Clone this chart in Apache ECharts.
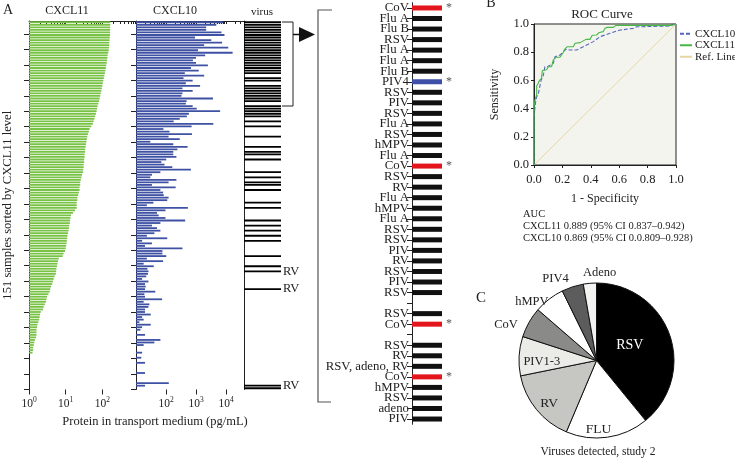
<!DOCTYPE html>
<html><head><meta charset="utf-8">
<script src="https://cdn.jsdelivr.net/npm/echarts@6/dist/echarts.min.js"></script>
<style>html,body{margin:0;padding:0;background:#fff}#c{width:735px;height:461px}</style>
</head><body><div id="c"></div>
<script>
// ---------- DATA ----------
// CXCL11 (pg/mL), samples sorted by CXCL11 level (null = below detection)
const cxcl11 = [165,165,164,164,163,162,160,158,156,155,152,150,
  145,140,138,135,132,129,125,122,118,114,110,107,103,100,97,94,91,88,
  85,82,78,74,72,70,67,64,61,58,55,50,45,43,41,39,38,37,36,35,34,34,33,33,
  32,32,31,31,30,30,28,27,26,25,25,24,24,23,22,21,21,20,20,20,18,16,14,13.6,
  13.2,13,12.6,12.3,12,11.6,11.2,11,10.8,10.6,10.3,10,9.6,8.8,8.3,6.5,6.2,6.0,
  5.8,5.6,5.5,5.4,5.0,4.7,4.5,4.3,4.0,3.8,3.7,3.4,3.1,3.0,2.9,2.7,2.5,2.4,
  2.1,2.0,1.95,1.9,1.8,1.7,1.65,1.6,1.6,1.6,1.55,1.45,1.4,1.35,1.3,1.3,1.25,
  null,null,null,null,null,null,null,null,null,null,null,null,null,null];
// CXCL10 (pg/mL), same sample order
const cxcl10 = [8040,4760,2180,2180,7040,8890,925,3220,7430,1870,
  11880,1170,16600,2020,1000,791,1000,2490,677,1235,
  424,1870,383,773,458,1367,354,773,354,327,
  3680,484,458,773,1056,6360,579,495,287,180,
  3770,715,82,131,732,122,287,30,175,523,
  240,175,175,222,102,70,89,162,677,65,
  34,30,222,122,34,210,65,80,84,122,
  110,38,23,535,96,50,57,96,434,65,
  34,50,65,41,23,110,
  16,34,20,354,76,76,102,23,80,18,39,24,26,25,22,16,26,20,21,20,
  44,19,20,74,18,28,26,20,20,31,
  16,18,13,31,16,14,null,20,null,65,41,18,null,null,16,null,15,null,20,null,
  null,null,20,null,null,null,124,20,null];
// samples (0-based, same order) in which a virus was detected
const virusDetected = [0,1,2,3,4,5,6,7,8,9,10,11,12,13,14,15,16,17,18,19,20,
  22,23,25,26,27,28,29,30,31,33,34,35,36,37,39,41,45,49,51,52,54,59,61,63,64,
  66,71,73,78,80,82,84,86,92,96,98,105,143,144];
const virusNotes = {98:'RV', 105:'RV', 143:'RV'};
// expanded list of top samples
const listLabels = ['CoV','Flu A','Flu B','RSV','Flu A','Flu A','Flu B','PIV4','RSV','PIV',
  'RSV','Flu A','RSV','hMPV','Flu A','CoV','RSV','RV','Flu A','hMPV',
  'Flu A','RSV','RSV','PIV','RV','RSV','PIV','RSV','','RSV',
  'CoV','','RSV','RV','RSV, adeno, RV','CoV','hMPV','RSV','adeno','PIV'];
// ROC curves
const roc11Fpr = [0,0,0.007,0.007,0.019,0.019,0.03,0.038,0.054,0.054,0.059,0.089,0.101,0.124,0.136,0.155,0.183,0.207,0.215,0.235,0.277,0.289,0.324,0.366,0.394,0.41,0.441,0.46,0.488,0.5,0.516,0.559,0.577,0.97,0.98,1];
const roc11Tpr = [0,0.41,0.41,0.46,0.5,0.56,0.58,0.60,0.615,0.63,0.67,0.675,0.697,0.697,0.745,0.764,0.764,0.80,0.82,0.839,0.839,0.863,0.868,0.891,0.891,0.92,0.922,0.94,0.946,0.97,0.976,0.976,0.99,0.99,1,1];
const roc10Fpr = [0,0,0.007,0.012,0.019,0.03,0.038,0.05,0.066,0.077,0.1,0.113,0.136,0.148,0.183,0.207,0.225,0.254,0.3,0.324,0.371,0.418,0.465,0.535,0.606,0.7,0.723,0.958,0.98,1];
const roc10Tpr = [0,0.34,0.41,0.45,0.485,0.5,0.544,0.6,0.638,0.697,0.70,0.709,0.721,0.768,0.78,0.804,0.82,0.816,0.816,0.827,0.851,0.875,0.91,0.934,0.957,0.969,0.98,0.986,1,1];
const aucLines = ['AUC','CXCL11 0.889 (95% CI 0.837\u20130.942)','CXCL10 0.869 (95% CI 0.0.809\u20130.928)'];
// viruses detected, study 2
const pieNames = ['RSV','FLU','RV','PIV1-3','CoV','hMPV','PIV4','Adeno'];
const pieValues = [43,19,17,9,7,7,5,3];

// ---------- BUILD ----------
const F = "'Liberation Serif','Times New Roman',serif";
const INK = '#222';
const N = cxcl11.length;
const cats = cxcl11.map((_, i) => String(i + 1));
const lg = v => (v == null ? null : Math.log10(v));
function logTicks(lo, hi) {
  const out = [];
  for (let d = Math.floor(lo); d <= Math.ceil(hi); d++)
    for (let m = 1; m <= 9; m++) {
      const t = d + Math.log10(m);
      if (t >= lo - 1e-9 && t <= hi + 1e-9) out.push(t);
    }
  return out;
}
const supRich = {
  b: {fontFamily: F, fontSize: 11.5, color: INK},
  s: {fontFamily: F, fontSize: 7.5, color: INK, padding: [0, 0, 7, 0]}
};
const supFmt = v => '{b|10}{s|' + Math.round(v) + '}';
const sampleTicks = Array.from({length: 24}, (_, k) => 5.1 + k * 6.08);
const x11Max = 2.92, x10Min = 1, x10Max = 4.633;

function minorAxis(grid, min, max) {
  return {gridIndex: grid, type: 'value', min, max, position: 'bottom',
    axisLine: {show: true, lineStyle: {color: INK, width: 1}},
    axisTick: {show: true, length: 3, customValues: logTicks(min, max), lineStyle: {color: INK}},
    axisLabel: {show: false}, splitLine: {show: false}};
}
function majorAxis(grid, min, max, labs) {
  return {gridIndex: grid, type: 'value', min, max, position: 'bottom',
    axisLine: {show: false},
    axisTick: {show: true, length: 5, customValues: labs, lineStyle: {color: INK}},
    axisLabel: {customValues: labs, formatter: supFmt, rich: supRich, margin: 7},
    splitLine: {show: false}};
}
function catAxis(grid, extra) {
  return Object.assign({gridIndex: grid, type: 'category', data: cats, inverse: true,
    axisLine: {show: true, lineStyle: {color: INK}}, axisTick: {show: false},
    axisLabel: {show: false}, splitLine: {show: false}}, extra || {});
}
function tickAxis(grid) {
  return {gridIndex: grid, type: 'value', min: 0, max: N, inverse: true, position: 'left',
    axisLine: {show: false},
    axisTick: {show: true, length: 5, customValues: sampleTicks, lineStyle: {color: INK}},
    axisLabel: {show: false}, splitLine: {show: false}};
}

const virusData = cats.map((_, i) => {
  if (!virusDetected.includes(i)) return null;
  const it = {value: 1};
  if (virusNotes[i]) it.label = {show: true, position: 'right', distance: 2, formatter: virusNotes[i],
    fontFamily: F, fontSize: 12.5, color: INK};
  return it;
});
const listData = listLabels.map(l => {
  if (!l) return null;
  let color = '#111', star = false;
  if (l === 'CoV') { color = '#e3161d'; star = true; }
  if (l === 'PIV4') { color = '#3d4fa6'; star = true; }
  const it = {value: 1, itemStyle: {color}};
  if (star) it.label = {show: true, position: 'right', distance: 4, formatter: '*',
    fontFamily: F, fontSize: 12, color: '#555'};
  return it;
});

const pieLabelCfg = {
  RSV: {position: 'inside', color: '#fff', fontSize: 14, offset: [-6, -1]},
  FLU: {position: 'inside', color: INK, fontSize: 13.5, offset: [-4, 28]},
  RV: {position: 'inside', color: INK, fontSize: 13.5, offset: [-15, 17]},
  'PIV1-3': {position: 'inside', color: INK, fontSize: 12.5, offset: [-13, 4]},
  CoV: {position: 'outside', color: INK, fontSize: 12.5, offset: [-4, 5]},
  hMPV: {position: 'outside', color: INK, fontSize: 12.5, offset: [5, 7]},
  PIV4: {position: 'outside', color: INK, fontSize: 12.5, offset: [0, -2]},
  Adeno: {position: 'outside', color: INK, fontSize: 12.5, offset: [29, -5]}
};
const pieColors = {RSV: '#000', FLU: '#fff', RV: '#c6c6c2', 'PIV1-3': '#ebebe7', CoV: '#8a8a88',
  hMPV: '#fff', PIV4: '#5c5c5c', Adeno: '#f3f3f1'};
const pieData = pieNames.map((n, i) => ({name: n, value: pieValues[i],
  itemStyle: {color: pieColors[n]},
  label: Object.assign({fontFamily: F}, pieLabelCfg[n])}));

const txt = (x, y, text, size, extra) => ({type: 'text', x, y, silent: true,
  style: Object.assign({text, fontFamily: F, fontSize: size, fill: INK, align: 'center', verticalAlign: 'middle'}, extra || {})});

const option = {
  backgroundColor: '#fff',
  animation: false,
  textStyle: {fontFamily: F},
  grid: [
    {left: 28, top: 21, width: 108, height: 368.5},
    {left: 136, top: 21, width: 109, height: 368.5},
    {left: 244, top: 21, width: 37, height: 368.5},
    {left: 412, top: 2.7, width: 30, height: 421.6},
    {left: 534, top: 24, width: 142, height: 141, show: true, backgroundColor: '#f4f4ef', borderColor: INK, borderWidth: 1}
  ],
  xAxis: [
    minorAxis(0, 0, x11Max), majorAxis(0, 0, x11Max, [0, 1, 2]),
    minorAxis(1, x10Min, x10Max), majorAxis(1, x10Min, x10Max, [2, 3, 4]),
    {gridIndex: 2, type: 'value', min: 0, max: 1, show: false},
    {gridIndex: 3, type: 'value', min: 0, max: 1, show: false},
    {gridIndex: 4, type: 'value', min: 0, max: 1, interval: 0.2,
      axisLine: {show: true, lineStyle: {color: INK}}, axisTick: {show: true, length: 3, lineStyle: {color: INK}},
      axisLabel: {formatter: v => v.toFixed(1), fontFamily: F, fontSize: 12.5, color: INK, margin: 8},
      splitLine: {show: false},
      name: '1 - Specificity', nameLocation: 'middle', nameGap: 28,
      nameTextStyle: {fontFamily: F, fontSize: 12, color: INK}}
  ],
  yAxis: [
    catAxis(0, {name: '151 samples sorted by CXCL11 level', nameLocation: 'middle', nameGap: 15, nameRotate: 90,
      nameTextStyle: {fontFamily: F, fontSize: 12.6, color: INK}}),
    tickAxis(0),
    catAxis(1), tickAxis(1),
    catAxis(2),
    {gridIndex: 3, type: 'category', data: listLabels.map((_, i) => String(i)), inverse: true,
      axisLine: {show: true, lineStyle: {color: INK}},
      axisTick: {show: true, length: 5, alignWithLabel: true, interval: 0, lineStyle: {color: INK}},
      axisLabel: {interval: 0, margin: 3, formatter: (v, i) => listLabels[i], fontFamily: F, fontSize: 12.8, color: INK},
      splitLine: {show: false}},
    {gridIndex: 4, type: 'value', min: 0, max: 1, interval: 0.2,
      axisLine: {show: true, lineStyle: {color: INK}}, axisTick: {show: true, length: 3, lineStyle: {color: INK}},
      axisLabel: {formatter: v => v.toFixed(1), fontFamily: F, fontSize: 12.5, color: INK, margin: 5},
      splitLine: {show: false},
      name: 'Sensitivity', nameLocation: 'middle', nameGap: 33, nameRotate: 90,
      nameTextStyle: {fontFamily: F, fontSize: 12, color: INK}}
  ],
  legend: {
    left: 679, top: 28, padding: 0, orient: 'vertical', itemWidth: 12, itemHeight: 8, itemGap: 0,
    itemStyle: {opacity: 0},
    textStyle: {fontFamily: F, fontSize: 11, lineHeight: 11.5, color: INK, padding: [0, 0, 0, -2]},
    data: ['CXCL10', 'CXCL11', 'Ref. Line']
  },
  series: [
    {type: 'bar', name: 'cxcl11', xAxisIndex: 0, yAxisIndex: 0, data: cxcl11.map(lg), barWidth: 1.8, clip: true,
      itemStyle: {color: '#78c245'}, silent: true},
    {type: 'bar', name: 'cxcl10', xAxisIndex: 2, yAxisIndex: 2, data: cxcl10.map(lg), barWidth: 1.8, clip: true,
      itemStyle: {color: '#3e51a3'}, silent: true},
    {type: 'bar', name: 'virus', xAxisIndex: 4, yAxisIndex: 4, data: virusData, barWidth: 1.8,
      itemStyle: {color: '#000'}, silent: true},
    {type: 'bar', name: 'list', xAxisIndex: 5, yAxisIndex: 5, data: listData, barWidth: 5, silent: true},
    {type: 'line', name: 'CXCL10', xAxisIndex: 6, yAxisIndex: 6, showSymbol: false, symbol: 'none',
      data: roc10Fpr.map((x, i) => [x, roc10Tpr[i]]),
      lineStyle: {color: '#5566bb', width: 1.1, type: [4, 2]}, itemStyle: {color: '#5566bb'}, z: 3},
    {type: 'line', name: 'CXCL11', xAxisIndex: 6, yAxisIndex: 6, showSymbol: false, symbol: 'none',
      data: roc11Fpr.map((x, i) => [x, roc11Tpr[i]]),
      lineStyle: {color: '#45b845', width: 1.1}, itemStyle: {color: '#45b845'}, z: 4},
    {type: 'line', name: 'Ref. Line', xAxisIndex: 6, yAxisIndex: 6, showSymbol: false, symbol: 'none',
      data: [[0, 0], [1, 1]],
      lineStyle: {color: '#e6d6a4', width: 1}, itemStyle: {color: '#e6d6a4'}, z: 2},
    {type: 'pie', name: 'study2', center: [596.5, 360.5], radius: 77.5, startAngle: 90, clockwise: true,
      avoidLabelOverlap: false, silent: true,
      itemStyle: {borderColor: '#111', borderWidth: 1},
      labelLine: {show: false, length: 6, length2: 0},
      label: {distanceToLabelLine: 2, fontFamily: F},
      data: pieData}
  ],
  graphic: [
    txt(8, 10, 'A', 14),
    txt(491, 3, 'B', 14),
    txt(481, 298, 'C', 15),
    txt(67, 11, 'CXCL11', 12),
    txt(175, 11, 'CXCL10', 12),
    txt(262, 12, 'virus', 11),
    txt(155, 422, 'Protein in transport medium (pg/mL)', 12.5),
    txt(602, 15, 'ROC Curve', 13),
    txt(523, 214, aucLines[0], 10.5, {align: 'left'}),
    txt(523, 226, aucLines[1], 10.5, {align: 'left'}),
    txt(523, 238, aucLines[2], 10.5, {align: 'left'}),
    txt(598, 452, 'Viruses detected, study 2', 11.5),
    {type: 'polyline', silent: true, shape: {points: [[282, 22], [293, 22], [293, 106], [282, 106]]},
      style: {stroke: INK, lineWidth: 1, fill: null}},
    {type: 'polyline', silent: true, shape: {points: [[293, 34.5], [301, 34.5]]},
      style: {stroke: '#111', lineWidth: 1.5, fill: null}},
    {type: 'polygon', silent: true, shape: {points: [[299, 27], [315, 34.5], [299, 42]]},
      style: {fill: '#111'}},
    {type: 'polyline', silent: true, shape: {points: [[332, 10], [318, 10], [318, 402], [331, 402]]},
      style: {stroke: '#555', lineWidth: 1.2, fill: null}}
  ]
};
const chart = echarts.init(document.getElementById('c'), null, {renderer: 'canvas'});
chart.setOption(option);
</script>
</body></html>
